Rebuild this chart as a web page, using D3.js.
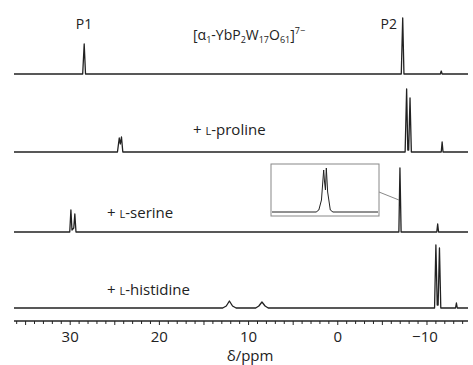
<!DOCTYPE html>
<meta charset="utf-8">
<html>
<head>
<title>31P NMR spectra</title>
<style>
  body { margin: 0; background: #fff; }
  text { font-family: "Open Sans", "Noto Sans", sans-serif; fill: #222; }
  .trace { fill: none; stroke: #222; stroke-width: 1.3px; stroke-linejoin: round; }
</style>
<script src="https://cdn.jsdelivr.net/npm/d3@7/dist/d3.min.js"></script>
</head>
<body>
<script>

    // spectra as [ppm, intensity] points
    var parentSpec = [[36.3,0],[28.6,0],[28.43,30],[28.28,0],[-7.12,0],[-7.28,56],[-7.42,0],
                      [-11.5,0],[-11.6,3],[-11.7,0],[-14.6,0]];
    var prolineSpec = [[36.3,0],[24.7,0],[24.5,14],[24.38,8],[24.25,15],[24.1,0],[-7.55,0],[-7.72,63],
                       [-7.85,2],[-7.95,2],[-8.1,54],[-8.25,0],[-11.6,0],[-11.7,10],[-11.8,0],[-14.6,0]];
    var serineSpec = [[36.3,0],[30.05,0],[29.92,22],[29.8,2],[29.6,4],[29.48,18],[29.35,0],
                      [-6.85,0],[-6.97,64],[-7.1,0],[-11.1,0],[-11.2,8],[-11.3,0],[-14.6,0]];
    var histidineSpec = [[36.3,0],[12.9,0],[12.5,2],[12.15,7],[11.8,2],[11.4,0],[9.2,0],[8.85,2],
                         [8.5,6],[8.15,2],[7.8,0],[-10.85,0],[-11.0,63],[-11.15,3],[-11.25,3],
                         [-11.4,60],[-11.55,0],[-13.2,0],[-13.3,5],[-13.4,0],[-14.6,0]];
    // zoom of the serine P2 line (inset)
    var serineInset = [[-6.4,0],[-6.9,0],[-6.93,2],[-6.96,12],[-6.985,42],[-6.995,30],[-7.005,22],
                       [-7.015,44],[-7.03,20],[-7.06,2],[-7.09,0],[-7.6,0]];

    var tickLabels = [30, 20, 10, 0, -10];

    var width = 473, height = 365;
    var baselines = [74, 152, 232, 308];

    var svg = d3.select("body").append("svg")
        .attr("width", width)
        .attr("height", height);

    var x = d3.scaleLinear().domain([36.3, -14.6]).range([14, 468]);
    var y = d3.scaleLinear().domain([0, 64]).range([0, 64]);

    var specs = [parentSpec, prolineSpec, serineSpec, histidineSpec];

    specs.forEach(function(s, i) {
        var line = d3.line()
            .x(function(d) { return x(d[0]); })
            .y(function(d) { return baselines[i] - y(d[1]); });
        svg.append("path")
          .attr("class", "trace")
          .attr("d", line(s));
    });

    // inset
    var ix = d3.scaleLinear().domain([-6.4, -7.6]).range([272, 378]);
    var iy = d3.scaleLinear().domain([0, 44]).range([212, 168]);
    svg.append("rect")
      .attr("x", 271).attr("y", 164).attr("width", 108).attr("height", 52)
      .attr("fill", "none").attr("stroke", "#888").attr("stroke-width", 1);
    svg.append("path")
      .attr("class", "trace")
      .style("stroke-width", "1px")
      .attr("d", d3.line().x(function(d) { return ix(d[0]); }).y(function(d) { return iy(d[1]); })(serineInset));
    svg.append("line")
      .attr("x1", 379).attr("y1", 192)
      .attr("x2", x(-6.97) - 1).attr("y2", 200)
      .attr("stroke", "#888").attr("stroke-width", 1);

    // axis
    var axisY = 321;
    svg.append("line")
      .attr("x1", 14).attr("x2", 468).attr("y1", axisY).attr("y2", axisY)
      .attr("stroke", "#222").attr("stroke-width", 1.5);
    svg.selectAll("line.tick")
      .data(d3.range(-14, 37))
      .enter().append("line")
      .attr("class", "tick")
      .attr("x1", function(d) { return x(d); })
      .attr("x2", function(d) { return x(d); })
      .attr("y1", axisY)
      .attr("y2", function(d) { return axisY + (d % 5 == 0 ? 4 : 3); })
      .attr("stroke", "#222").attr("stroke-width", 1);
    svg.selectAll("text.ticklab")
      .data(tickLabels)
      .enter().append("text")
      .attr("class", "ticklab")
      .attr("x", function(d) { return x(d) + (d < 0 ? -2 : 0); })
      .attr("y", 342)
      .attr("text-anchor", "middle")
      .style("font-size", "15px")
      .text(function(d) { return d < 0 ? "\u2212" + Math.abs(d) : d; });
    svg.append("text")
      .attr("x", 250).attr("y", 361)
      .attr("text-anchor", "middle")
      .style("font-size", "15px")
      .text("\u03b4/ppm");

    // labels
    svg.append("text").attr("x", 84).attr("y", 29).attr("text-anchor", "middle")
      .style("font-size", "14px").text("P1");
    svg.append("text").attr("x", 397).attr("y", 29).attr("text-anchor", "end")
      .style("font-size", "14px").text("P2");

    // formula with sub/superscripts: 0 normal, 1 sub, 2 sup
    var title = svg.append("text").attr("x", 193).attr("y", 40).style("font-size", "14px");
    var parts = [["[\u03b1",0],["1",1],["-YbP",0],["2",1],["W",0],["17",1],["O",0],["61",1],["]",0],["7\u2212",2]];
    var off = function(k) { return k == 1 ? 3 : (k == 2 ? -6 : 0); };
    parts.forEach(function(p, i) {
        var prev = i > 0 ? parts[i-1][1] : 0;
        var t = title.append("tspan").text(p[0]).attr("dy", off(p[1]) - off(prev));
        if (p[1] != 0) t.style("font-size", "9px");
    });

    function sampleLabel(px, py, name) {
        var t = svg.append("text").attr("x", px).attr("y", py).style("font-size", "15px");
        t.append("tspan").text("+ ");
        t.append("tspan").style("font-size", "11px").text("L");
        t.append("tspan").text("-" + name);
    }
    sampleLabel(193, 135, "proline");
    sampleLabel(107, 218, "serine");
    sampleLabel(107, 295, "histidine");

</script>
</body>
</html>
